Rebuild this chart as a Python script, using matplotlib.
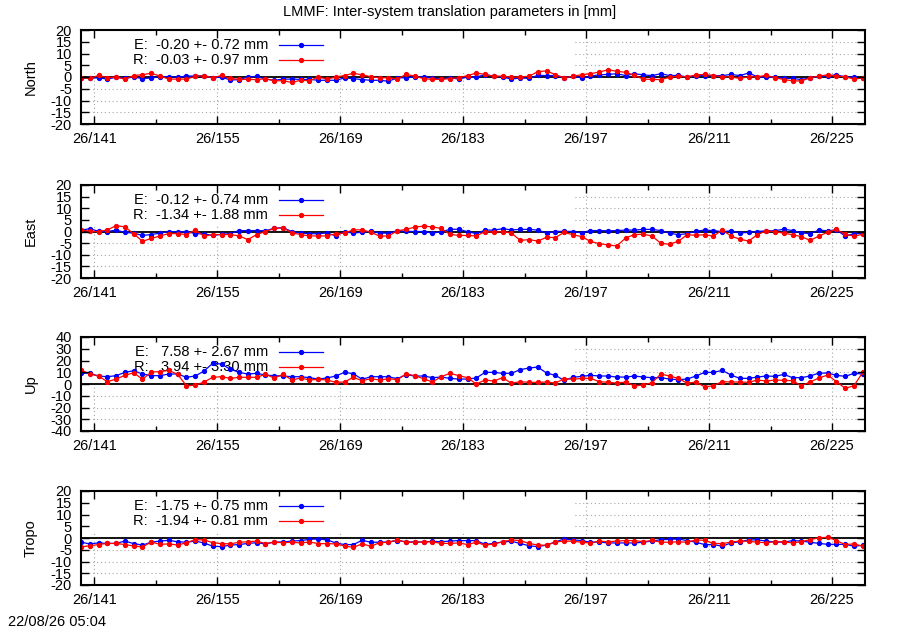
import matplotlib.pyplot as plt
from matplotlib.patches import Rectangle

plt.rcParams['font.family'] = ['Liberation Sans', 'DejaVu Sans']
plt.rcParams['font.size'] = 10.5
plt.rcParams['axes.unicode_minus'] = False

# day of year (26/ddd), one value per day at noon
days = [139.5 + k for k in range(90)]
major_days = [141, 155, 169, 183, 197, 211, 225]
minor_days = [148, 162, 176, 190, 204, 218]
day_labels = ['26/141', '26/155', '26/169', '26/183', '26/197', '26/211', '26/225']

panel_names = ['North', 'East', 'Up', 'Tropo']
legend_E = ['E:  -0.20 +- 0.72 mm', 'E:  -0.12 +- 0.74 mm', 'E:   7.58 +- 2.67 mm', 'E:  -1.75 +- 0.75 mm']
legend_R = ['R:  -0.03 +- 0.97 mm', 'R:  -1.34 +- 1.88 mm', 'R:   3.94 +- 3.30 mm', 'R:  -1.94 +- 0.81 mm']
y_limits = [20, 20, 40, 20]
y_steps = [5, 5, 10, 5]

north_E = [-0.3, -0.6, -0.3, -0.9, -0.1, -0.6, 0.0, -0.7, -0.4, 0.1, 0.1, -0.1, 0.4, 0.4, 0.6,
           -0.4, 0.0, -1.3, -1.1, 0.0, 0.3, -0.9, -1.4, -0.9, -0.9, -1.0, -1.0, -1.4, -1.4, -1.4,
           -0.4, -0.7, -1.1, -1.4, -1.4, -1.8, -0.4, -0.3, 0.0, 0.0, -0.4, -0.9,
           -0.3, -0.9, 0.0, 0.0, 1.0, 0.4, 0.0, -0.9, -0.4, -0.6, 0.7, 0.6, 0.6, -0.4, 0.3, -0.4,
           0.4, 0.9, 1.1, 1.4, 0.6, 1.4, 0.9, 0.6, 1.4, 0.6, 0.7, 0.0, 0.6, 0.6, 0.6, 0.6, 1.1,
           0.6, 1.7, 0.1, 0.0, -0.1, -0.6, -0.6, -1.1, -0.4, 0.3, 0.4, 1.0, 0.0, -0.1, -0.6]
north_R = [-0.3, -0.6, 0.7, -0.3, 0.0, -0.9, 0.6, 1.0, 1.6, 0.4, -0.9, -0.9, -0.9, 0.3, 0.6,
           -0.4, 0.7, -0.6, -1.0, -1.0, -1.1, -0.7, -1.6, -1.6, -2.3, -1.4, -1.6, 0.0, -0.9, 0.0,
           0.6, 1.6, 0.9, 0.1, -0.3, -0.3, -0.9, 1.1, 0.4, -0.7, -1.0, -1.0,
           -0.7, -0.3, 0.6, 1.7, 1.1, 0.3, 0.4, -0.1, 0.0, 0.3, 2.3, 2.6, 1.0, -0.3, 0.3, 1.0,
           1.4, 2.1, 3.1, 2.4, 2.0, 0.7, -0.9, -1.0, -1.1, -0.1, 0.3, 0.0, 0.9, 1.1, 0.6, 0.1,
           0.0, -0.6, 0.1, 0.1, 0.7, -0.3, -1.1, -1.6, -1.7, -0.3, 0.4, 0.9, 0.4, 0.1, -0.9, -0.4]

east_E = [0.6, 1.2, 0.1, 0.0, 0.6, -0.4, -0.7, -1.7, -1.3, -0.7, 0.0, -0.1, -0.1, -0.9, -1.0,
          -1.7, -1.2, -0.9, 0.4, 0.4, 0.4, 0.3, 1.4, 1.6, 0.0, -0.7, -0.9, -1.0, -0.6, -1.9,
          -0.1, -0.7, -0.3, 0.1, -0.7, -0.7, 0.3, 0.1, 0.0, 0.0, -0.7, -0.1,
          0.9, 1.0, -0.1, -0.9, 0.6, 0.6, 1.2, 0.7, 0.9, 0.9, 0.6, -0.7, 0.0, 0.1, 0.0, -0.6,
          0.4, 0.4, 0.3, 0.4, 0.6, 0.6, 0.9, 0.9, 0.4, -0.7, -1.4, -0.9, 0.1, 0.6, 0.4, -0.1,
          0.3, -0.6, -0.4, 0.0, 0.3, 0.3, 1.0, 0.4, -0.6, -0.9, 0.6, 0.3, 0.7, -2.0, -0.9, -0.9]
east_R = [0.7, 0.1, -0.1, 0.7, 2.5, 2.0, -1.0, -4.2, -3.0, -1.9, -0.9, -0.9, -1.3, 0.6, -2.0,
          -1.3, -1.3, -1.3, -1.9, -3.5, -1.3, 0.0, 1.3, 1.6, -0.6, -1.3, -1.9, -1.9, -1.9, -0.9,
          -0.7, 0.7, 0.7, -0.3, -2.0, -1.9, 0.3, 0.9, 1.9, 2.3, 2.0, 1.3,
          -1.2, -1.7, -1.7, -1.9, 0.0, -0.3, 0.0, -0.7, -3.8, -3.5, -4.1, -2.5, -2.6, -0.4, -1.4,
          -2.2, -4.3, -5.2, -5.8, -6.2, -2.8, -1.3, -1.2, -1.9, -5.1, -5.5, -4.2, -1.4, -1.6,
          -1.4, -2.0, 0.7, -2.0, -3.3, -4.1, -1.4, 0.3, -0.1, -0.7, -1.4, -2.2, -3.8, -2.0, -0.3,
          0.9, -1.2, -2.0, -1.2]

up_E = [9.1, 9.1, 6.8, 6.2, 7.1, 9.9, 11.3, 8.5, 7.1, 7.1, 8.5, 8.5, 5.7, 6.8, 11.0, 17.6,
        17.0, 12.5, 9.9, 8.5, 9.1, 7.6, 7.1, 6.8, 6.2, 6.2, 5.4, 4.2, 5.1, 6.8, 9.9, 8.8, 4.0,
        6.2, 6.2, 6.2, 4.5, 7.9, 6.8, 6.8, 5.4, 5.9,
        4.8, 4.2, 4.2, 5.1, 9.9, 9.9, 9.1, 9.1, 12.2, 13.6, 14.4, 9.3, 7.4, 3.1, 5.7, 6.5, 7.4,
        6.8, 6.8, 5.9, 5.9, 6.8, 5.9, 5.4, 5.4, 4.2, 3.7, 4.2, 6.8, 9.9, 9.9, 11.6, 7.6, 4.8,
        4.8, 5.9, 6.8, 6.5, 8.2, 5.4, 5.4, 6.8, 9.3, 9.3, 7.4, 6.5, 9.1, 8.5]
up_R = [11.9, 8.5, 6.8, 2.0, 4.2, 7.4, 9.6, 4.0, 10.2, 10.5, 11.6, 8.2, -1.4, -1.1, 1.7, 5.7,
        6.2, 4.8, 5.7, 5.7, 5.7, 8.2, 5.1, 8.2, 3.4, 5.1, 3.4, 4.0, 3.4, 1.4, 1.7, 5.7, 2.8,
        4.5, 3.4, 4.5, 3.7, 8.5, 7.1, 4.5, 1.7, 6.2,
        9.1, 7.1, 5.4, 0.0, 3.4, 2.5, 5.4, 0.6, 2.0, 1.4, 1.4, 1.7, 0.8, 4.5, 4.0, 4.8, 4.8,
        2.0, 1.4, 0.8, 1.7, -1.7, -0.8, 1.1, 8.5, 6.8, 4.8, 0.6, 1.7, -2.5, -1.4, 2.0, 1.7,
        1.7, 1.4, 3.4, 2.5, 3.4, 3.1, 2.8, -1.4, 1.7, 5.1, 7.6, 2.0, -3.7, -1.4, 9.9]

tropo_E = [-1.8, -2.5, -2.1, -2.3, -2.3, -1.3, -2.4, -3.0, -1.8, -1.3, -1.0, -1.6, -1.8, -1.3,
           -2.1, -3.5, -3.7, -3.0, -2.8, -2.3, -2.0, -2.5, -1.7, -1.7, -1.3, -1.1, -0.6, -0.4,
           -0.8, -2.1, -2.8, -2.8, -1.0, -1.8, -1.8, -1.7, -1.1, -1.6, -1.7, -1.7, -1.4, -1.6,
           -1.3, -1.1, -1.1, -1.1, -2.7, -2.3, -1.7, -1.4, -2.3, -3.3, -3.7, -3.0, -1.7, -0.4,
           -0.8, -1.1, -1.8, -1.7, -2.1, -2.1, -2.1, -2.1, -1.8, -1.3, -0.7, -0.6, -0.4, -1.1,
           -1.8, -2.8, -2.8, -3.5, -2.1, -1.6, -0.8, -0.8, -1.3, -1.7, -1.8, -1.1, -1.3, -1.8,
           -2.3, -2.7, -2.7, -2.7, -3.5, -3.1]
tropo_R = [-3.8, -3.3, -2.8, -2.3, -2.3, -2.8, -3.4, -3.8, -1.7, -2.7, -2.5, -3.0, -2.0, -0.7,
           -0.8, -2.0, -2.4, -2.5, -1.8, -1.6, -1.3, -2.4, -1.8, -2.0, -1.8, -2.1, -1.7, -2.4,
           -2.4, -2.5, -3.4, -4.0, -2.5, -3.5, -2.0, -1.8, -0.8, -1.8, -1.8, -1.7, -1.6, -2.3,
           -2.3, -2.1, -2.8, -1.8, -3.1, -2.5, -1.6, -0.8, -1.1, -2.3, -3.0, -3.1, -1.7, -1.3,
           -1.4, -1.8, -2.1, -1.3, -1.6, -1.3, -1.1, -1.1, -1.6, -1.0, -1.8, -1.8, -1.6, -1.8,
           -0.8, -1.0, -2.3, -2.4, -1.7, -1.3, -1.4, -1.8, -2.0, -1.6, -1.6, -2.1, -1.6, -0.7,
           0.1, 0.3, -1.1, -2.8, -2.5, -3.5]

series_E = [north_E, east_E, up_E, tropo_E]
series_R = [north_R, east_R, up_R, tropo_R]

# panel placement in pixels (top, bottom) on a 900x630 canvas
panel_px = [(30, 124), (185, 278), (337, 431), (491, 585)]
box_bottom = [0.575, 0.56, 0.5, 0.575]

fig = plt.figure(figsize=(9, 6.3), dpi=100)
left, right = 81 / 900, 865 / 900
grid_kw = dict(color='#a8a8a8', linestyle=(0, (1, 2.5)), linewidth=0.8, zorder=0.5)

for p in range(4):
    top, bot = panel_px[p]
    ax = fig.add_axes([left, 1 - bot / 630, right - left, (bot - top) / 630])
    ax.set_axisbelow(False)
    lim = y_limits[p]
    ax.set_xlim(139.5, 228.75)
    ax.set_ylim(-lim, lim)

    for d in major_days:
        ax.axvline(d, **grid_kw)
    for v in range(-lim + y_steps[p], lim, y_steps[p]):
        if v != 0:
            ax.axhline(v, **grid_kw)
    # opaque key area
    ax.add_patch(Rectangle((0, box_bottom[p]), 0.628, 1 - box_bottom[p], transform=ax.transAxes,
                           facecolor='white', edgecolor='none', zorder=0.8))
    ax.axhline(0, color='black', linewidth=1.3, zorder=1)

    ax.plot(days, series_E[p], color='#0000ff', marker='o', markersize=2.8, linewidth=0.9, zorder=2)
    ax.plot(days, series_R[p], color='#ff0000', marker='o', markersize=2.8, linewidth=0.9, zorder=2.1)

    # key
    for row, (txt, col) in enumerate([(legend_E[p], '#0000ff'), (legend_R[p], '#ff0000')]):
        yk = 1 - (15 + 15 * row) / (bot - top)
        ax.text(0.2385, yk, txt, transform=ax.transAxes, ha='right', va='center', zorder=1.5)
        ax.plot([0.2526, 0.3087], [yk, yk], transform=ax.transAxes, color=col, linewidth=0.9, zorder=1.6)
        ax.plot([0.2806], [yk], transform=ax.transAxes, color=col, marker='o', markersize=2.8, zorder=1.6)

    ax.set_xticks(major_days)
    ax.set_xticklabels(day_labels)
    ax.set_xticks(minor_days, minor=True)
    ax.set_yticks(range(-lim, lim + 1, y_steps[p]))
    ax.tick_params(axis='both', which='major', direction='in', length=6, width=1,
                   top=True, right=True)
    ax.tick_params(axis='x', which='minor', direction='in', length=3.5, width=1, top=True)
    ax.tick_params(axis='x', pad=6)
    ax.tick_params(axis='y', pad=6.5)
    for s in ax.spines.values():
        s.set_linewidth(1.5)

    fig.text(31 / 900, 1 - (top + bot) / 2 / 630, panel_names[p], rotation=90,
             ha='center', va='center')

fig.text(0.5, 1 - 12 / 630, 'LMMF: Inter-system translation parameters in [mm]',
         ha='center', va='center')
fig.text(8 / 900, 1 - 622 / 630, '22/08/26 05:04', ha='left', va='center')

fig.savefig('out.png', dpi=100)
